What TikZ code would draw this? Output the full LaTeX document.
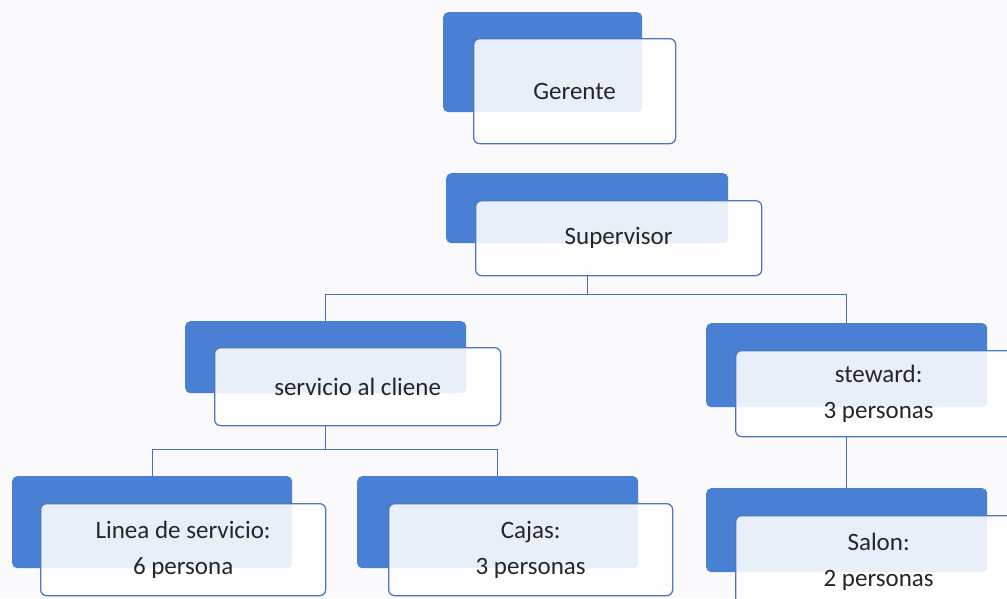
\documentclass[tikz,border=0pt]{standalone}
\usepackage{fontspec}
\setmainfont{Carlito}
\definecolor{bluebk}{HTML}{4A80D4}
\definecolor{bordblue}{HTML}{4B78C0}
\definecolor{linkblue}{HTML}{4A6FA8}
\definecolor{paper}{HTML}{FAFAFC}
\definecolor{txt}{HTML}{262626}
\begin{document}
\begin{tikzpicture}[x=1pt,y=-1pt,
  backbox/.style={anchor=north west, fill=bluebk, draw=none, rounded corners=5pt, inner sep=0pt},
  frontbox/.style={anchor=north west, fill=white, fill opacity=0.88, text opacity=1, draw=bordblue, line width=1.3pt, rounded corners=6pt, inner sep=0pt, align=center, text=txt, font=\fontsize{25}{36}\selectfont},
  link/.style={draw=linkblue, line width=1pt}]
\useasboundingbox (0,0) rectangle (1007,598);
\clip (0,0) rectangle (1007,598);
\fill[paper] (0,0) rectangle (1007,598);
% back boxes
\node[backbox, minimum width=199pt, minimum height=100pt] (gerB) at (443,12) {};
\node[backbox, minimum width=282pt, minimum height=70pt] (supB) at (446,173) {};
\node[backbox, minimum width=281pt, minimum height=72pt] (servB) at (185,321) {};
\node[backbox, minimum width=281pt, minimum height=84pt] (stewB) at (706,323) {};
\node[backbox, minimum width=280pt, minimum height=92pt] (linB) at (12,476) {};
\node[backbox, minimum width=281pt, minimum height=92pt] (cajB) at (357,476) {};
\node[backbox, minimum width=281pt, minimum height=84pt] (salB) at (706,488) {};
% front boxes
\node[frontbox, minimum width=202pt, minimum height=105pt] (ger) at (473,38) {Gerente};
\node[frontbox, minimum width=286pt, minimum height=75pt] (sup) at (475,200) {Supervisor};
\node[frontbox, minimum width=286pt, minimum height=78pt] (serv) at (214,347) {servicio al cliene};
\node[frontbox, minimum width=286pt, minimum height=86pt] (stew) at (735,350) {steward:\\3 personas};
\node[frontbox, minimum width=285pt, minimum height=92pt] (lin) at (40,503) {Linea de servicio:\\6 persona};
\node[frontbox, minimum width=284pt, minimum height=92pt] (caj) at (388,503) {Cajas:\\3 personas};
\node[frontbox, minimum width=286pt, minimum height=92pt] (sal) at (735,515) {Salon:\\2 personas};
% connectors
\coordinate (bus1) at (0,294);
\coordinate (bus2) at (0,449);
\draw[link] (supB.south |- sup.south) -- (supB.south |- bus1) -| (servB.north);
\draw[link] (supB.south |- bus1) -| (stewB.north);
\draw[link] (servB.south |- serv.south) -- (servB.south |- bus2) -| (linB.north);
\draw[link] (servB.south |- bus2) -| (cajB.north);
\draw[link] (stewB.south |- stew.south) -- (salB.north);
\end{tikzpicture}
\end{document}
